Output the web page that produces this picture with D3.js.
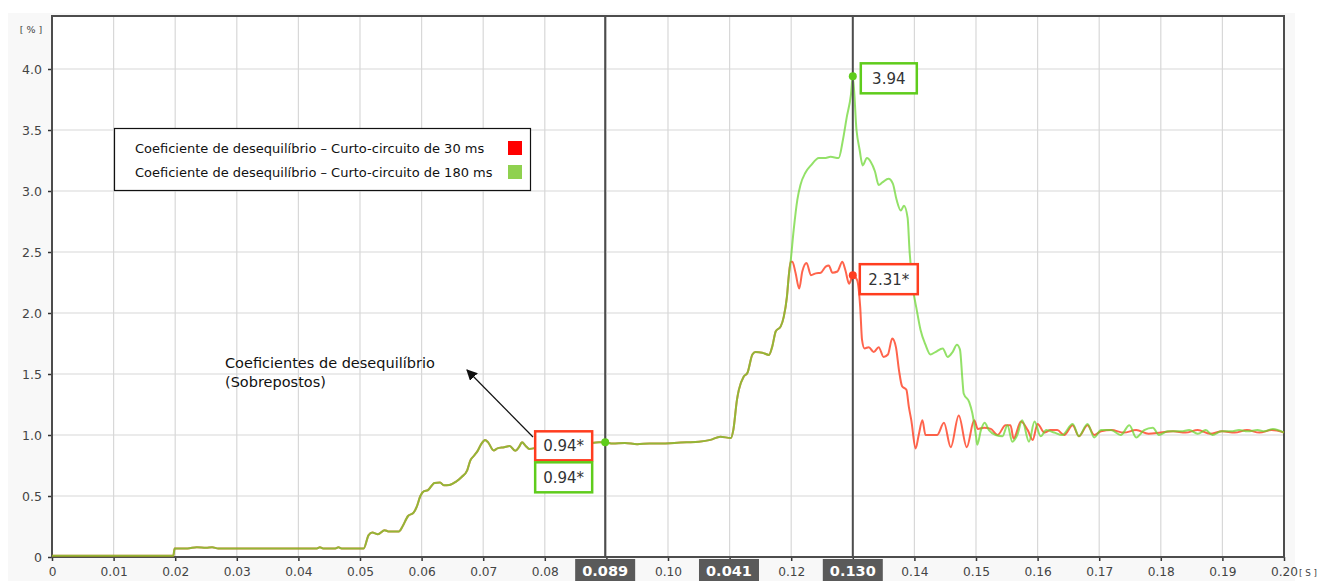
<!DOCTYPE html>
<html>
<head>
<meta charset="utf-8">
<script src="https://cdn.jsdelivr.net/npm/d3@7"></script>
<style>
  html, body { margin: 0; padding: 0; background: #ffffff; }
  svg { display: block; font-family: "DejaVu Sans", Verdana, sans-serif; }
</style>
</head>
<body>
<svg id="chart" width="1318" height="581"></svg>
<script>
// Shared trace (both short-circuit cases coincide until ~0.12 s)
const tCommon = [0, 0.0197, 0.0199, 0.022, 0.0235, 0.025, 0.026, 0.027, 0.030, 0.035, 0.040, 0.043, 0.0435, 0.044, 0.046, 0.0465, 0.047, 0.0503,
  0.0506, 0.0514, 0.0520, 0.0529, 0.0540, 0.0546, 0.0563, 0.0569, 0.0578, 0.0587, 0.0592, 0.0598, 0.0604, 0.0610, 0.0621, 0.0630, 0.0636, 0.0645,
  0.0656, 0.0665, 0.0674, 0.0679, 0.0685, 0.0691, 0.0697, 0.0703, 0.0708, 0.0717, 0.0723, 0.0734, 0.0743, 0.0752, 0.0758, 0.0763, 0.0769, 0.0775,
  0.079, 0.081, 0.083, 0.085, 0.087, 0.0888, 0.0898, 0.091, 0.093, 0.095, 0.097, 0.099, 0.101, 0.103, 0.105,
  0.1069, 0.1085, 0.1102, 0.1106, 0.1112, 0.1115, 0.1123, 0.1129, 0.1137, 0.1142, 0.1153, 0.1164, 0.1169, 0.1175, 0.1183, 0.1188, 0.1193, 0.1196];
const vCommon = [0.01, 0.01, 0.07, 0.07, 0.08, 0.075, 0.08, 0.07, 0.07, 0.07, 0.07, 0.07, 0.08, 0.07, 0.07, 0.08, 0.07, 0.07,
  0.07, 0.18, 0.20, 0.187, 0.22, 0.21, 0.21, 0.25, 0.336, 0.363, 0.41, 0.50, 0.54, 0.547, 0.607, 0.61, 0.588, 0.59,
  0.618, 0.656, 0.71, 0.79, 0.83, 0.87, 0.927, 0.96, 0.94, 0.873, 0.89, 0.90, 0.91, 0.87, 0.90, 0.94, 0.91, 0.886,
  0.90, 0.92, 0.93, 0.92, 0.93, 0.94, 0.94, 0.93, 0.935, 0.925, 0.93, 0.93, 0.935, 0.94, 0.945,
  0.96, 0.986, 0.975, 1.04, 1.29, 1.37, 1.48, 1.51, 1.66, 1.68, 1.675, 1.656, 1.72, 1.85, 1.89, 1.97, 2.13, 2.30];

// 30 ms short-circuit, after the traces separate
const tRed = [0.1199, 0.1202, 0.1207, 0.1213, 0.1218, 0.1225, 0.1232, 0.1240, 0.1248, 0.1256, 0.1261, 0.1267, 0.1275, 0.1283, 0.1288, 0.1294, 0.1299, 0.130,
  0.1307, 0.1312, 0.1315, 0.1319, 0.1326, 0.1334, 0.1342, 0.1350, 0.1357, 0.1364, 0.1370, 0.1375, 0.1380, 0.1387, 0.1391, 0.1395, 0.1402,
  0.1407, 0.1413, 0.1418, 0.1426, 0.1437, 0.1448, 0.1459, 0.1472, 0.1485, 0.1497, 0.1503, 0.1513, 0.1524, 0.1535, 0.1548, 0.1556, 0.1561,
  0.1573, 0.1584, 0.1592, 0.1600, 0.1611, 0.1621, 0.1632, 0.1643, 0.1657, 0.1667, 0.1681, 0.1692, 0.1703,
  0.172, 0.174, 0.176, 0.178, 0.180, 0.182, 0.184, 0.186, 0.188, 0.190, 0.192, 0.194, 0.196, 0.198, 0.200];
const vRed = [2.42, 2.42, 2.33, 2.20, 2.34, 2.41, 2.31, 2.325, 2.33, 2.38, 2.39, 2.33, 2.34, 2.42, 2.35, 2.24, 2.30, 2.31,
  2.27, 2.05, 1.78, 1.71, 1.72, 1.68, 1.72, 1.64, 1.66, 1.79, 1.72, 1.53, 1.40, 1.37, 1.23, 1.12, 0.89,
  1.0, 1.12, 1.0, 1.0, 1.0, 1.10, 0.90, 1.16, 0.90, 1.12, 1.05, 1.06, 1.05, 1.0, 1.08, 1.08, 0.97,
  1.11, 1.04, 0.96, 1.09, 1.02, 1.04, 1.04, 1.0, 1.08, 0.99, 1.08, 1.0, 1.03,
  1.04, 1.02, 1.04, 1.01, 1.02, 1.03, 1.02, 1.04, 1.01, 1.03, 1.02, 1.04, 1.02, 1.04, 1.02];

// 180 ms short-circuit, after the traces separate
const tGreen = [0.1199, 0.1204, 0.1210, 0.1215, 0.1223, 0.1232, 0.1245, 0.1254, 0.1264, 0.1277, 0.1284, 0.1290, 0.1297, 0.130,
  0.1306, 0.1311, 0.1316, 0.1323, 0.1329, 0.1336, 0.1342, 0.1348, 0.1358, 0.1365, 0.1371, 0.1378, 0.1383, 0.1389, 0.1392, 0.1397,
  0.1404, 0.1410, 0.1418, 0.1426, 0.1434, 0.1446, 0.1454, 0.1462, 0.1469, 0.1474, 0.1478, 0.1480, 0.1489, 0.1494, 0.1500, 0.1502,
  0.1508, 0.1514, 0.1521, 0.1532, 0.1543, 0.1551, 0.1559, 0.1567, 0.1575, 0.1586, 0.1595, 0.1605, 0.1614, 0.1627, 0.1640,
  0.1657, 0.1667, 0.1681, 0.1692, 0.1703, 0.1719, 0.1735, 0.1749, 0.1760, 0.1773, 0.1787, 0.1797, 0.1811, 0.1833, 0.1846,
  0.1860, 0.1873, 0.1884, 0.1898, 0.1914, 0.1927, 0.1941, 0.1957, 0.1968, 0.1982, 0.200];
const vGreen = [2.42, 2.68, 2.93, 3.05, 3.15, 3.21, 3.27, 3.27, 3.28, 3.27, 3.42, 3.60, 3.79, 3.94,
  3.50, 3.34, 3.21, 3.27, 3.24, 3.16, 3.05, 3.07, 3.10, 3.06, 2.93, 2.84, 2.88, 2.78, 2.52, 2.23,
  2.02, 1.86, 1.74, 1.66, 1.68, 1.71, 1.64, 1.68, 1.74, 1.70, 1.45, 1.34, 1.27, 1.18, 0.99, 0.92,
  1.04, 1.10, 1.04, 1.0, 0.99, 1.08, 0.945, 1.0, 1.12, 0.945, 1.11, 0.99, 1.04, 1.02, 1.0,
  1.09, 0.99, 1.09, 0.98, 1.04, 1.04, 1.0, 1.08, 0.98, 1.04, 1.06, 1.0, 1.03, 1.03, 1.04,
  1.01, 1.04, 1.0, 1.03, 1.03, 1.04, 1.03, 1.04, 1.03, 1.05, 1.02];

const xTicks = [0, 0.01, 0.02, 0.03, 0.04, 0.05, 0.06, 0.07, 0.08, 0.09, 0.10, 0.11, 0.12, 0.13, 0.14, 0.15, 0.16, 0.17, 0.18, 0.19, 0.20];
const xTickLabels = ["0", "0.01", "0.02", "0.03", "0.04", "0.05", "0.06", "0.07", "0.08", "0.09", "0.10", "0.11", "0.12", "0.13", "0.14", "0.15", "0.16", "0.17", "0.18", "0.19", "0.20"];
const yTicks = [0, 0.5, 1.0, 1.5, 2.0, 2.5, 3.0, 3.5, 4.0];
const yTickLabels = ["0", "0.5", "1.0", "1.5", "2.0", "2.5", "3.0", "3.5", "4.0"];

// Cursors (time in s) and the values read at them
const cursorTimes = [0.0898, 0.130];
const cursorLabels = ["0.089", "0.041", "0.130"];
const readoutsRed = [0.94, 2.31];
const readoutsGreen = [0.94, 3.94];
const readoutRedText = ["0.94*", "2.31*"];
const readoutGreenText = ["0.94*", "3.94"];

const legendLabels = ["Coeficiente de desequilíbrio – Curto-circuito de 30 ms", "Coeficiente de desequilíbrio – Curto-circuito de 180 ms"];
const annotationLines = ["Coeficientes de desequilíbrio", "(Sobrepostos)"];

const RED = "#ff3d1f";
const GREEN = "#6ad62e";
const BOX_GREEN = "#5fcc1c";
const FRAME = "#4d4d4d";
const FONT = "'DejaVu Sans', Verdana, sans-serif";

const svg = d3.select("#chart");
const W = 1318, H = 581;
const plotL = 52, plotR = 1284, plotT = 16, plotB = 557;

// page panel
svg.append("rect").attr("x", 0).attr("y", 0).attr("width", W).attr("height", H).attr("fill", "#ffffff");
svg.append("rect").attr("x", 8).attr("y", 13).attr("width", 1287).attr("height", H - 13).attr("fill", "#f8f8f8");
svg.append("rect").attr("x", plotL).attr("y", plotT).attr("width", plotR - plotL).attr("height", plotB - plotT).attr("fill", "#ffffff");

const x = d3.scaleLinear().domain([0, 0.20]).range([plotL, plotR]);
const y = d3.scaleLinear().domain([0, 4.0]).range([plotB, 69]);

// time-axis tags: two cursors plus their difference, centred between them
const tagTimes = [cursorTimes[0], (cursorTimes[0] + cursorTimes[1]) / 2, cursorTimes[1]];
const tagHalf = 30;
const coveredByTag = d => tagTimes.some(t => Math.abs(x(t) - x(d)) < tagHalf);

// grid
const grid = svg.append("g");
grid.selectAll("line.v").data(xTicks.slice(1, -1)).join("line")
  .attr("x1", d => x(d)).attr("x2", d => x(d)).attr("y1", plotT).attr("y2", plotB)
  .attr("stroke", "#d8d8d8").attr("stroke-width", 1.2);
grid.selectAll("line.h").data(yTicks.slice(1)).join("line")
  .attr("x1", plotL).attr("x2", plotR).attr("y1", d => y(d)).attr("y2", d => y(d))
  .attr("stroke", "#d8d8d8").attr("stroke-width", 1.2);

// axes
const xAxis = d3.axisBottom(x).tickValues(xTicks)
  .tickFormat((d, i) => coveredByTag(d) ? "" : xTickLabels[i]).tickSize(4).tickSizeOuter(0);
const gx = svg.append("g").attr("transform", `translate(0,${plotB})`).call(xAxis);
gx.select(".domain").remove();
gx.selectAll(".tick line").attr("stroke", "#333").attr("stroke-width", 1.5);
gx.selectAll(".tick text").attr("fill", "#444").attr("font-size", 12.2).attr("dy", "1.0em")
  .attr("font-family", FONT);

const yAxis = d3.axisLeft(y).tickValues(yTicks).tickFormat((d, i) => yTickLabels[i]).tickSize(4).tickSizeOuter(0);
const gy = svg.append("g").attr("transform", `translate(${plotL},0)`).call(yAxis);
gy.select(".domain").remove();
gy.selectAll(".tick line").attr("stroke", "#333").attr("stroke-width", 1.5);
gy.selectAll(".tick text").attr("fill", "#444").attr("font-size", 12.5).attr("x", -10)
  .attr("font-family", FONT);

// frame
svg.append("rect").attr("x", plotL).attr("y", plotT).attr("width", plotR - plotL).attr("height", plotB - plotT)
  .attr("fill", "none").attr("stroke", FRAME).attr("stroke-width", 2);

// units
svg.append("text").attr("x", 31).attr("y", 33).attr("text-anchor", "middle").attr("font-size", 9.5).attr("fill", "#444").text("[ % ]");
svg.append("text").attr("x", 1299).attr("y", 576).attr("text-anchor", "start").attr("font-size", 8.8).attr("fill", "#444").text("[ S ]");

// curves
const redSeries = tCommon.map((t, i) => [t, vCommon[i]]).concat(tRed.map((t, i) => [t, vRed[i]]));
const greenSeries = tCommon.map((t, i) => [t, vCommon[i]]).concat(tGreen.map((t, i) => [t, vGreen[i]]));
const line = d3.line().x(d => x(d[0])).y(d => y(d[1])).curve(d3.curveMonotoneX);

svg.append("path").datum(redSeries).attr("d", line).attr("fill", "none")
  .attr("stroke", RED).attr("stroke-width", 2).attr("stroke-opacity", 0.8).attr("stroke-linejoin", "round");
svg.append("path").datum(greenSeries).attr("d", line).attr("fill", "none")
  .attr("stroke", GREEN).attr("stroke-width", 2).attr("stroke-opacity", 0.72).attr("stroke-linejoin", "round");

// cursor lines
svg.selectAll("line.cursor").data(cursorTimes).join("line")
  .attr("x1", d => x(d)).attr("x2", d => x(d)).attr("y1", plotT).attr("y2", plotB)
  .attr("stroke", FRAME).attr("stroke-width", 2);

// readout markers
svg.append("circle").attr("cx", x(cursorTimes[1])).attr("cy", y(readoutsRed[1])).attr("r", 4).attr("fill", RED);
svg.append("circle").attr("cx", x(cursorTimes[1])).attr("cy", y(readoutsGreen[1])).attr("r", 4).attr("fill", BOX_GREEN);
svg.append("circle").attr("cx", x(cursorTimes[0])).attr("cy", y(readoutsGreen[0])).attr("r", 4).attr("fill", BOX_GREEN);

// readout boxes
function readout(bx, by, w, h, color, txt) {
  svg.append("rect").attr("x", bx).attr("y", by).attr("width", w).attr("height", h)
    .attr("fill", "#ffffff").attr("stroke", color).attr("stroke-width", 2.5);
  svg.append("text").attr("x", bx + w / 2).attr("y", by + h / 2 + 5.5).attr("text-anchor", "middle")
    .attr("font-size", 15).attr("fill", "#333").text(txt);
}
readout(x(cursorTimes[1]) + 8, y(readoutsGreen[1]) - 13, 56, 30, BOX_GREEN, readoutGreenText[1]);
readout(x(cursorTimes[1]) + 7, y(readoutsRed[1]) - 11, 58, 30, RED, readoutRedText[1]);
readout(x(cursorTimes[0]) - 70, y(readoutsRed[0]) - 11, 57, 29, RED, readoutRedText[0]);
readout(x(cursorTimes[0]) - 70, y(readoutsGreen[0]) + 20, 57, 30, BOX_GREEN, readoutGreenText[0]);

// cursor value tags on the time axis
const tags = svg.append("g");
tagTimes.forEach((t, i) => {
  tags.append("rect").attr("x", x(t) - tagHalf).attr("y", 559).attr("width", 2 * tagHalf).attr("height", 22).attr("fill", "#5a5a5a");
  tags.append("text").attr("x", x(t)).attr("y", 576).attr("text-anchor", "middle")
    .attr("font-size", 14.5).attr("font-weight", "bold").attr("fill", "#ffffff").text(cursorLabels[i]);
});

// legend
const lg = svg.append("g");
lg.append("rect").attr("x", 114.5).attr("y", 128.5).attr("width", 416).attr("height", 62)
  .attr("fill", "#ffffff").attr("stroke", "#111").attr("stroke-width", 1.2);
const legendColors = ["#ff0000", "#8fd14f"];
legendLabels.forEach((txt, i) => {
  lg.append("text").attr("x", 135).attr("y", 153 + i * 24).attr("font-size", 13).attr("fill", "#111").text(txt);
  lg.append("rect").attr("x", 508).attr("y", 141 + i * 24).attr("width", 14).attr("height", 14).attr("fill", legendColors[i]);
});

// annotation with arrow
const defs = svg.append("defs");
defs.append("marker").attr("id", "arrowhead").attr("viewBox", "0 0 10 10").attr("refX", 9).attr("refY", 5)
  .attr("markerWidth", 11).attr("markerHeight", 11).attr("markerUnits", "userSpaceOnUse").attr("orient", "auto")
  .append("path").attr("d", "M0,0 L10,5 L0,10 Z").attr("fill", "#111");
annotationLines.forEach((txt, i) => {
  svg.append("text").attr("x", 225).attr("y", 368 + i * 19).attr("font-size", 14.5).attr("fill", "#111").text(txt);
});
svg.append("line").attr("x1", 533).attr("y1", 437).attr("x2", 467).attr("y2", 370)
  .attr("stroke", "#111").attr("stroke-width", 1.2).attr("marker-end", "url(#arrowhead)");
</script>
</body>
</html>
